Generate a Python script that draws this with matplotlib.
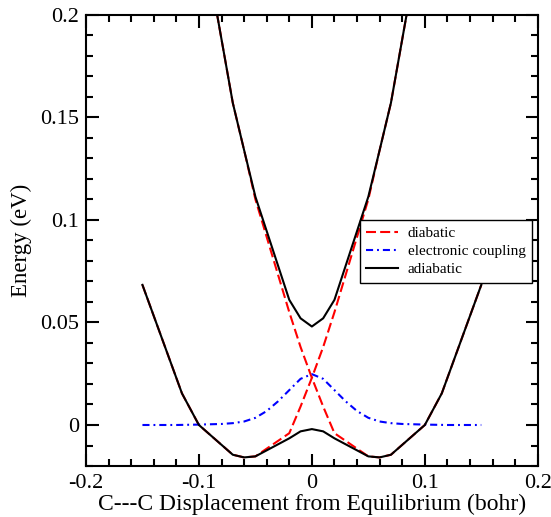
import matplotlib
matplotlib.use("Agg")
from matplotlib import pyplot as plt
from matplotlib.ticker import MultipleLocator, FormatStrFormatter

plt.rcParams['font.family'] = ['Liberation Serif', 'DejaVu Serif']
plt.rcParams['axes.unicode_minus'] = False

# displacement grid (bohr) and energies (eV)
desloc = [-0.15, -0.115, -0.1, -0.07, -0.06, -0.05, -0.02, -0.01, 0.0,
          0.01, 0.02, 0.05, 0.06, 0.07, 0.1, 0.115, 0.15]

diabatico_1 = [0.0683, 0.0154, 0.0, -0.0145, -0.0158, -0.0153, -0.004, 0.009, 0.023,
               0.038, 0.055, 0.110, 0.134, 0.157, 0.25, 0.305, 0.447]
diabatico_2 = [0.447, 0.305, 0.25, 0.157, 0.134, 0.110, 0.055, 0.038, 0.023,
               0.009, -0.004, -0.0153, -0.0158, -0.0145, 0.0, 0.0154, 0.0683]

adiabatico_inf = [0.0683, 0.0154, 0.0, -0.0145, -0.0158, -0.0153, -0.0065, -0.0031, -0.0020,
                  -0.0031, -0.0065, -0.0153, -0.0158, -0.0145, 0.0, 0.0154, 0.0683]
adiabatico_sup = [0.447, 0.305, 0.25, 0.157, 0.134, 0.1113, 0.061, 0.052, 0.048,
                  0.052, 0.061, 0.1113, 0.134, 0.157, 0.25, 0.305, 0.447]

desloc_acopl = [-0.15, -0.12, -0.1, -0.08, -0.07, -0.06, -0.05, -0.04, -0.03, -0.02, -0.01, 0.0,
                0.01, 0.02, 0.03, 0.04, 0.05, 0.06, 0.07, 0.08, 0.1, 0.12, 0.15]
acoplamento = [0.0, 0.0, 0.0002, 0.0005, 0.0009, 0.0017, 0.0035, 0.0068, 0.0115, 0.0170, 0.0225, 0.0248,
               0.0225, 0.0170, 0.0115, 0.0068, 0.0035, 0.0017, 0.0009, 0.0005, 0.0002, 0.0, 0.0]

fig = plt.figure(figsize=(5.51, 5.17), dpi=100)
ax = fig.add_axes([0.156, 0.0986, 0.820, 0.873])

ax.plot(desloc, diabatico_1, color='red', lw=1.5, dashes=(4.8, 2.0), label='diabatic')
ax.plot(desloc, diabatico_2, color='red', lw=1.5, dashes=(4.8, 2.0))
ax.plot(desloc_acopl, acoplamento, color='blue', lw=1.5, dashes=(3.4, 1.9, 0.9, 1.9),
        label='electronic coupling')
ax.plot(desloc, adiabatico_inf, color='black', lw=1.5, label='adiabatic')
ax.plot(desloc, adiabatico_sup, color='black', lw=1.5)

ax.set_xlim(-0.2, 0.2)
ax.set_ylim(-0.02, 0.2)
ax.xaxis.set_major_locator(MultipleLocator(0.1))
ax.xaxis.set_minor_locator(MultipleLocator(0.02))
ax.yaxis.set_major_locator(MultipleLocator(0.05))
ax.yaxis.set_minor_locator(MultipleLocator(0.01))
ax.xaxis.set_major_formatter(FormatStrFormatter('%g'))
ax.yaxis.set_major_formatter(FormatStrFormatter('%g'))

ax.tick_params(which='both', direction='in', top=True, right=True, width=1.5)
ax.tick_params(which='major', length=9, labelsize=16)
ax.tick_params(which='minor', length=5)
ax.tick_params(axis='x', pad=6)
ax.tick_params(axis='y', pad=5)
for s in ax.spines.values():
    s.set_linewidth(1.5)

ax.set_xlabel('C---C Displacement from Equilibrium (bohr)', fontsize=17, labelpad=0)
ax.set_ylabel('Energy (eV)', fontsize=16.5, labelpad=6)

leg = ax.legend(loc='upper left', bbox_to_anchor=(0.606, 0.545), fontsize=11,
                fancybox=False, framealpha=1, edgecolor='black', borderpad=0.4,
                handlelength=2.1, handletextpad=0.65, labelspacing=0.3, borderaxespad=0)
leg.get_frame().set_linewidth(1.0)

plt.savefig('out.png', dpi=100)
